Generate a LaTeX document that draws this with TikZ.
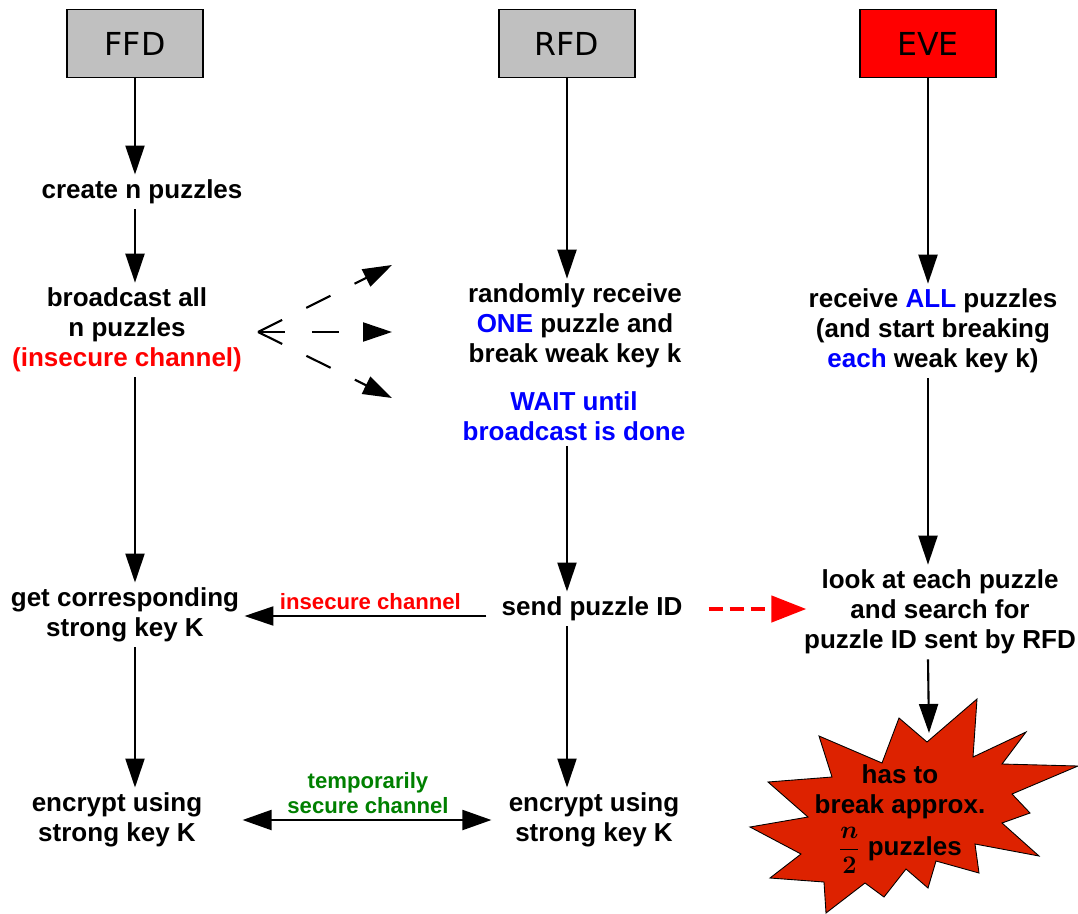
\documentclass[tikz,border=0pt]{standalone}
\usepackage{amsmath}
\usepackage{fontspec}
\setmainfont{Liberation Sans}
\newfontfamily\headfont{DejaVu Sans}
\usetikzlibrary{arrows.meta}
\definecolor{burstred}{HTML}{DD2200}
\definecolor{boxgray}{HTML}{C0C0C0}
\definecolor{chgreen}{HTML}{008000}

\begin{document}
\begin{tikzpicture}[x=0.02cm, y=-0.02cm,
  party/.style={draw, line width=1.1pt, minimum width=2.72cm, minimum height=1.36cm, inner sep=0pt, font=\headfont\fontsize{18}{20}\selectfont},
  txt/.style={align=center, inner sep=0.1cm, font=\bfseries\fontsize{14.8}{17}\selectfont},
  lbl/.style={align=center, inner sep=0.1cm, font=\bfseries\fontsize{12.6}{14.2}\selectfont},
  arr/.style={line width=1.2pt, -{Triangle[length=0.58cm, width=0.38cm]}},
  dblarr/.style={line width=1.2pt, {Triangle[length=0.58cm, width=0.4cm]}-{Triangle[length=0.58cm, width=0.4cm]}}]

\useasboundingbox (0,0) rectangle (1078,913);

\node[party, fill=boxgray] (ffd) at (135,43.5) {FFD};
\node[party, fill=boxgray] (rfd) at (567,43.5) {RFD};
\node[party, fill=red] (eve) at (928,43.5) {EVE};

\node[txt] (create) at (142,192) {create n puzzles};
\node[txt] (bcast) at (127,330) {broadcast all\\n puzzles\\\textcolor{red}{(insecure channel)}};
\node[txt] (getkey) at (125,615) {get corresponding\\strong key K};
\node[txt] (encf) at (117,820) {encrypt using\\strong key K};

\node[txt] (recv) at (575,326) {randomly receive\\\textcolor{blue}{ONE} puzzle and\\break weak key k};
\node[txt] (wait) at (574,416) {\textcolor{blue}{WAIT until}\\\textcolor{blue}{broadcast is done}};
\node[txt] (send) at (592,609) {send puzzle ID};
\node[txt] (encr) at (594,820) {encrypt using\\strong key K};

\node[txt] (recvall) at (933,331) {receive \textcolor{blue}{ALL} puzzles\\(and start breaking\\\textcolor{blue}{each} weak key k)};
\node[txt] (look) at (940,612) {look at each puzzle\\and search for\\puzzle ID sent by RFD};

\filldraw[fill=burstred, draw=black, line width=0.5pt] (899,718) -- (927,742) -- (977,699) -- (973,757) -- (1026,732) -- (1002,764) -- (1078,766) -- (1012,794) -- (1030,813) -- (1002,823) -- (1039,856) -- (975,844) -- (979,873) -- (936,861) -- (928,888) -- (906,869) -- (884,897) -- (865,883) -- (826,913) -- (824,882) -- (770,878) -- (801,854) -- (750,827) -- (808,817) -- (768,782) -- (832,777) -- (819,736) -- (882,763) -- cycle;
\node[txt] (burst) at (900,819) {has to\\break approx.\\[4pt]$\dfrac{\boldsymbol{n}}{\boldsymbol{2}}$ puzzles};
\coordinate (bursttop) at (929,733);

\draw[arr] (ffd) -- (ffd |- create.north);
\draw[arr] (ffd |- create.south) -- (ffd |- bcast.north);
\draw[arr] (ffd |- bcast.south) -- (ffd |- getkey.north);
\draw[arr] (ffd |- getkey.south) -- (ffd |- encf.north);

\draw[arr] (rfd) -- (rfd |- recv.north);
\draw[arr] (rfd |- wait.south) -- (rfd |- send.north);
\draw[arr] (rfd |- send.south) -- (rfd |- encr.north);

\draw[arr] (eve) -- (eve |- recvall.north);
\draw[arr] (eve |- recvall.south) -- (eve |- look.north);
\draw[arr] (eve |- look.south) -- (bursttop);

\draw[arr, shorten <=0.2cm] ([yshift=-0.14cm]send.west) -- ([yshift=-0.14cm]send.west -| getkey.east) node[lbl, text=red, midway, above] {insecure channel};
\draw[red, line width=2.6pt, dash pattern=on 0.28cm off 0.14cm, -{Triangle[length=0.7cm, width=0.52cm]}] ([xshift=0.42cm]send.east) -- ([xshift=0.15cm]send.east -| look.west);
\draw[dblarr, shorten <=0.7cm, shorten >=0.24cm] (encf) -- (encr) node[lbl, text=chgreen, midway, above, xshift=0.25cm] {temporarily\\secure channel};

\coordinate (fan) at (258,332);
\coordinate (fanup) at (392,265);
\coordinate (fanmid) at (392,332);
\coordinate (fandown) at (392,398);
\foreach \t in {fanup, fanmid, fandown}
  \draw[arr, dash pattern=on 0.54cm off 0.54cm] (fan) -- (\t);

\end{tikzpicture}
\end{document}
